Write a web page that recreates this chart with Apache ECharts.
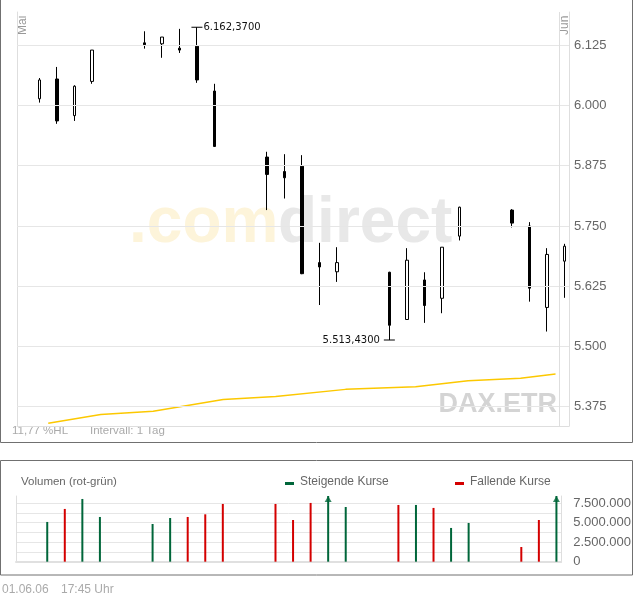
<!DOCTYPE html>
<html><head><meta charset="utf-8">
<script src="https://cdn.jsdelivr.net/npm/echarts@6/dist/echarts.min.js"></script>
<style>html,body{margin:0;padding:0;background:#fff}#c{width:634px;height:597px}</style>
</head><body><div id="c"></div>
<script>
// ---- data (DAX Xetra, daily, May 2006) ----
const dates  = ['2006-05-02','2006-05-03','2006-05-04','2006-05-05','2006-05-08','2006-05-09','2006-05-10','2006-05-11','2006-05-12',
                '2006-05-15','2006-05-16','2006-05-17','2006-05-18','2006-05-19','2006-05-22','2006-05-23','2006-05-24','2006-05-25',
                '2006-05-26','2006-05-29','2006-05-30','2006-05-31','2006-06-01'];
const openP  = [6014,6055,5979,6050,6130,6128,6119,6123,6030,5893,5863,5874,5674,5655,5654,5556,5638,5600,5729,5783,5750,5581,5677];
const closeP = [6053,5968,6040,6115,6126,6142,6115,6053,5915,5857,5850,5651,5665,5674,5544,5679,5585,5706,5789,5756,5621,5691,5708];
const lowP   = [6006,5962,5968,6045,6118,6099,6109,6047,5914,5783,5807,5650,5586,5634,5513.43,5555,5549,5569,5720,5747,5593,5531,5601];
const highP  = [6057,6080,6042,6115,6154,6142,6159,6162.37,6045,5904,5899,5897,5715,5706,5655,5704,5654,5706,5790,5785,5758,5704,5713];
const prevClose = 6010;              // close before 02.05.06
// volume in millions, 02.05.06 .. 31.05.06
const volumeMio = [5.10,6.77,8.05,5.74,4.84,5.61,5.74,6.08,7.41,7.41,5.35,7.54,9.6,7.02,7.28,7.28,6.90,4.33,4.97,1.89,5.35,11.0];
// long moving average (yellow line)
const maDates  = ['2006-05-02','2006-05-05','2006-05-08','2006-05-12','2006-05-15','2006-05-19','2006-05-23','2006-05-26','2006-05-29','2006-05-31'];
const maValues = [5340.5,5359,5365.5,5390,5396,5411,5416.5,5429,5434,5443];
const priceTicks = [5375,5500,5625,5750,5875,6000,6125];
const volTickStep = 2500000;

// ---- helpers ----
const DAY0 = Date.UTC(2006,4,1);
const dayOf = s => { const p = s.split('-').map(Number); return (Date.UTC(p[0],p[1]-1,p[2]) - DAY0) / 86400000; };
const fmtDE = (v, dec) => { const parts = v.toFixed(dec).split('.'); return parts[0].replace(/\B(?=(\d{3})+(?!\d))/g,'.') + (parts[1] ? ',' + parts[1] : ''); };

const GREEN = '#00663a', RED = '#d40000', GRID = '#e6e6e6', AXIS = '#dedede';
const VOL_MAX = 8430000;
const MA_SHIFT = 0.5;
const FONT = '"Liberation Sans", Arial, sans-serif';

const candleData = dates.map((d,i) => [dayOf(d), openP[i], closeP[i], lowP[i], highP[i]]);
let iH = 0, iL = 0;
highP.forEach((v,i) => { if (v > highP[iH]) iH = i; });
lowP.forEach((v,i) => { if (v < lowP[iL]) iL = i; });
const hlPct = (highP[iH] - lowP[iL]) / lowP[iL] * 100;

const volData = volumeMio.map((v,i) => {
  const up = closeP[i] > (i ? closeP[i-1] : prevClose);
  return { value: [dayOf(dates[i]), Math.min(v*1e6, VOL_MAX)], itemStyle: { color: up ? GREEN : RED } };
});
const arrowData = volumeMio.map((v,i) => v*1e6 > VOL_MAX ? [dayOf(dates[i]), VOL_MAX] : null).filter(Boolean);
const maData = maDates.map((d,i) => [dayOf(d) + MA_SHIFT, maValues[i]]);

const chart = echarts.init(document.getElementById('c'), null, { renderer: 'canvas' });
const hiddenAxis = { axisTick:{show:false}, axisLabel:{show:false}, splitLine:{show:false} };

chart.setOption({
  animation: false,
  grid: [
    { left: 17, top: 12, width: 552, height: 414 },
    { left: 16, top: 496, width: 546, height: 65.7 }
  ],
  xAxis: [
    Object.assign({ type:'value', gridIndex:0, min:-0.286, max:31.27,
      axisLine:{show:true, onZero:false, lineStyle:{color:AXIS}} }, hiddenAxis),
    Object.assign({ type:'value', gridIndex:1, min:-0.779, max:30.27,
      axisLine:{show:true, onZero:false, lineStyle:{color:'#e0e0e0', width:2}} }, hiddenAxis)
  ],
  yAxis: [
    Object.assign({ type:'value', gridIndex:0, min:5335, max:6194, position:'left',
      axisLine:{show:true, onZero:false, lineStyle:{color:AXIS}} }, hiddenAxis),
    Object.assign({ type:'value', gridIndex:0, min:5335, max:6194, position:'right',
      axisLine:{show:true, onZero:false, lineStyle:{color:AXIS}} }, hiddenAxis),
    { type:'value', gridIndex:1, min:0, max:VOL_MAX, interval:1250000, position:'right',
      axisLine:{show:true, onZero:false, lineStyle:{color:AXIS}}, axisTick:{show:false},
      axisLabel:{ margin:12, color:'#666', fontSize:13, fontFamily:FONT, showMaxLabel:false,
        formatter: v => (v % volTickStep === 0 && v <= 7500000) ? fmtDE(v,0) : '' },
      splitLine:{ show:true, showMaxLine:false, lineStyle:{color:GRID} } },
    Object.assign({ type:'value', gridIndex:1, min:0, max:VOL_MAX, position:'left',
      axisLine:{show:true, onZero:false, lineStyle:{color:AXIS}} }, hiddenAxis)
  ],
  graphic: [
    { type:'rect', shape:{x:0.5, y:-1, width:632, height:443.5}, style:{fill:'none', stroke:'#707070', lineWidth:1}, silent:true },
    { type:'rect', shape:{x:0.5, y:460.5, width:632, height:114.5}, style:{fill:'none', stroke:'#707070', lineWidth:1}, silent:true },
    { type:'text', x:129, y:224, silent:true, style:{ text:'.com', fill:'#fdf4da', font:'bold 64px ' + FONT, textAlign:'left', textVerticalAlign:'middle', align:'left', verticalAlign:'middle' } },
    { type:'text', x:278, y:224, silent:true, style:{ text:'direct', fill:'#e8e8e8', font:'bold 64px ' + FONT, textAlign:'left', textVerticalAlign:'middle', align:'left', verticalAlign:'middle' } },
    { type:'text', x:557, y:404.5, silent:true, style:{ text:'DAX.ETR', fill:'#d4d4d4', font:'bold 27px ' + FONT, textAlign:'right', textVerticalAlign:'middle', align:'right', verticalAlign:'middle' } },
    { type:'text', x:22.5, y:35, rotation:Math.PI/2, silent:true, style:{ text:'Mai', fill:'#999', font:'12px ' + FONT, textAlign:'left', textVerticalAlign:'middle', align:'left', verticalAlign:'middle' } },
    { type:'text', x:565, y:35, rotation:Math.PI/2, silent:true, style:{ text:'Jun', fill:'#999', font:'12px ' + FONT, textAlign:'left', textVerticalAlign:'middle', align:'left', verticalAlign:'middle' } },
    { type:'text', x:12, y:431, silent:true, style:{ text: fmtDE(hlPct,2) + ' %HL', fill:'#aaa', font:'11.5px ' + FONT, textAlign:'left', textVerticalAlign:'middle', align:'left', verticalAlign:'middle' } },
    { type:'text', x:90, y:431, silent:true, style:{ text:'Intervall: 1 Tag', fill:'#aaa', font:'11.5px ' + FONT, textAlign:'left', textVerticalAlign:'middle', align:'left', verticalAlign:'middle' } },
    { type:'text', x:21, y:482, silent:true, style:{ text:'Volumen (rot-grün)', fill:'#666', font:'11.5px ' + FONT, textAlign:'left', textVerticalAlign:'middle', align:'left', verticalAlign:'middle' } },
    { type:'rect', shape:{x:285, y:482, width:9, height:3}, style:{fill:GREEN}, silent:true },
    { type:'text', x:300, y:482, silent:true, style:{ text:'Steigende Kurse', fill:'#666', font:'12px ' + FONT, textAlign:'left', textVerticalAlign:'middle', align:'left', verticalAlign:'middle' } },
    { type:'rect', shape:{x:455, y:482, width:9, height:3}, style:{fill:RED}, silent:true },
    { type:'text', x:470, y:482, silent:true, style:{ text:'Fallende Kurse', fill:'#666', font:'12px ' + FONT, textAlign:'left', textVerticalAlign:'middle', align:'left', verticalAlign:'middle' } },
    { type:'text', x:2, y:590, silent:true, style:{ text:'01.06.06', fill:'#aaa', font:'12px ' + FONT, textAlign:'left', textVerticalAlign:'middle', align:'left', verticalAlign:'middle' } },
    { type:'text', x:61, y:590, silent:true, style:{ text:'17:45 Uhr', fill:'#aaa', font:'12px ' + FONT, textAlign:'left', textVerticalAlign:'middle', align:'left', verticalAlign:'middle' } }
  ],
  series: [
    { type:'line', name:'grid', xAxisIndex:0, yAxisIndex:0, data:[], z:1, silent:true,
      markLine:{ silent:true, symbol:['none','none'], animation:false,
        lineStyle:{ color:GRID, width:1, type:'solid' },
        data: priceTicks.map(v => ({ yAxis: v, label:{ show:true, position:'end', distance:5, formatter: fmtDE(v,0), color:'#666', fontSize:13, fontFamily:FONT } }))
          .concat([{ xAxis: 30.7, label:{show:false}, lineStyle:{color:AXIS} }]) } },
    { type:'line', name:'MA', xAxisIndex:0, yAxisIndex:0, data: maData, showSymbol:false, z:2,
      lineStyle:{ color:'#fcc800', width:1.5 } },
    { type:'candlestick', name:'DAX', xAxisIndex:0, yAxisIndex:0, z:3,
      dimensions:['day','open','close','low','high'], encode:{ x:0, y:[1,2,3,4] },
      data: candleData, barWidth:3,
      itemStyle:{ color:'#fff', color0:'#000', borderColor:'#000', borderColor0:'#000', borderWidth:1 },
      markPoint:{ silent:true, animation:false, symbol:'rect', symbolSize:[11,1], itemStyle:{ color:'#000' },
        data:[
          { coord:[dayOf(dates[iH]), highP[iH]], label:{ show:true, position:'right', distance:1, formatter: fmtDE(highP[iH],4), color:'#111', fontSize:10, fontFamily:'"DejaVu Sans", sans-serif' } },
          { coord:[dayOf(dates[iL]), lowP[iL]], label:{ show:true, position:'left', distance:4, formatter: fmtDE(lowP[iL],4), color:'#111', fontSize:10, fontFamily:'"DejaVu Sans", sans-serif' } }
        ] } },
    { type:'bar', name:'Volumen', xAxisIndex:1, yAxisIndex:2, data: volData, barWidth:2, z:3 },
    { type:'scatter', name:'Pfeil', xAxisIndex:1, yAxisIndex:2, data: arrowData, symbol:'triangle',
      symbolSize:[7,6], symbolOffset:[0,3], itemStyle:{ color:GREEN }, clip:false, z:4 }
  ]
});
</script></body></html>
